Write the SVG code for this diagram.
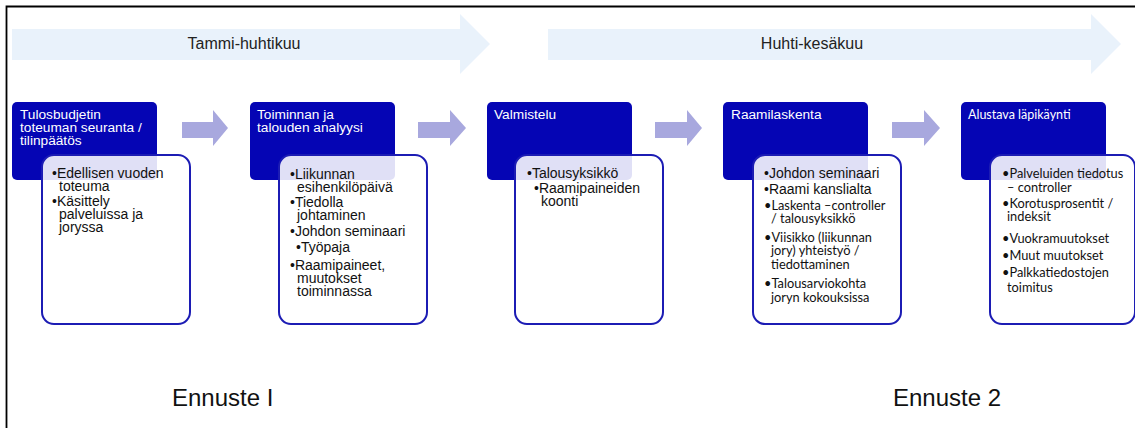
<svg xmlns="http://www.w3.org/2000/svg" width="1135" height="428" viewBox="0 0 1135 428">
<style>
.big{fill:#e9f2fb}
.bigt{font-family:"Liberation Sans",Arial,sans-serif;font-size:16px;fill:#222;text-anchor:middle}
.dark{fill:#0505b4}
.ht{font-family:"Liberation Sans",Arial,sans-serif;font-size:13.7px;fill:#fff}
.htc{font-family:Lato,"Liberation Sans",sans-serif;font-size:12.5px;fill:#fff}
.card{fill:#fff;fill-opacity:0.88;stroke:#1c1cb4;stroke-width:2}
.bt{font-family:"Liberation Sans",Arial,sans-serif;font-size:14px;fill:#111}
.btc{font-family:Lato,"Liberation Sans",sans-serif;font-size:12.8px;fill:#111}
.pa{fill:#a8a8de}
.en{font-family:"Liberation Sans",Arial,sans-serif;font-size:24px;fill:#111}
</style>
<rect width="1135" height="428" fill="#fff"/>
<path d="M6.5 428 V6.5 H1135" fill="none" stroke="#000" stroke-width="1.8"/>
<g id="period1">
<path class="big" d="M12 29 H460 V14 L490 44 L460 74 V60 H12 Z"/>
<text class="bigt" x="244" y="49">Tammi-huhtikuu</text>
</g>
<g id="period2">
<path class="big" d="M548 29 H1091 V14 L1121 44 L1091 74 V60 H548 Z"/>
<text class="bigt" x="812" y="49">Huhti-kesäkuu</text>
</g>
<g id="connectors">
<path class="pa" d="M182 122 H213 V110 L228 128 L213 146 V138 H182 Z"/>
<path class="pa" d="M418 122 H450 V110 L466 128 L450 146 V138 H418 Z"/>
<path class="pa" d="M655 122 H687 V110 L702 128 L687 146 V138 H655 Z"/>
<path class="pa" d="M892 122 H924 V110 L940 128 L924 146 V138 H892 Z"/>
</g>
<g id="step1">
<rect class="dark" x="12" y="102" width="145" height="78" rx="5"/>
<text class="ht" x="20" y="119">Tulosbudjetin</text>
<text class="ht" x="20" y="132">toteuman seuranta /</text>
<text class="ht" x="20" y="145">tilinpäätös</text>
<rect class="card" x="42" y="155" width="148" height="169" rx="12"/>
<text class="bt"><tspan x="52" y="178">•Edellisen vuoden</tspan><tspan x="59" y="191">toteuma</tspan><tspan x="52" y="206">•Käsittely</tspan><tspan x="59" y="219">palveluissa ja</tspan><tspan x="59" y="232">joryssa</tspan></text>
</g>
<g id="step2">
<rect class="dark" x="250" y="102" width="145" height="78" rx="5"/>
<text class="ht" x="257" y="119">Toiminnan ja</text>
<text class="ht" x="257" y="132">talouden analyysi</text>
<rect class="card" x="279" y="155" width="148" height="169" rx="12"/>
<text class="bt"><tspan x="290" y="179">•Liikunnan</tspan><tspan x="297" y="192">esihenkilöpäivä</tspan><tspan x="290" y="207">•Tiedolla</tspan><tspan x="297" y="220">johtaminen</tspan><tspan x="290" y="236">•Johdon seminaari</tspan><tspan x="296" y="252">•Työpaja</tspan><tspan x="290" y="270">•Raamipaineet,</tspan><tspan x="297" y="283">muutokset</tspan><tspan x="297" y="296">toiminnassa</tspan></text>
</g>
<g id="step3">
<rect class="dark" x="487" y="102" width="145" height="78" rx="5"/>
<text class="ht" x="494" y="119">Valmistelu</text>
<rect class="card" x="515" y="155" width="148" height="169" rx="12"/>
<text class="bt"><tspan x="527" y="178">•Talousyksikkö</tspan><tspan x="534" y="193">•Raamipaineiden</tspan><tspan x="541" y="206">koonti</tspan></text>
</g>
<g id="step4">
<rect class="dark" x="723" y="102" width="145" height="78" rx="5"/>
<text class="ht" x="731" y="119">Raamilaskenta</text>
<rect class="card" x="753" y="155" width="148" height="169" rx="12"/>
<text class="bt"><tspan x="764" y="178">•Johdon seminaari</tspan><tspan x="764" y="194">•Raami kanslialta</tspan></text>
<text class="btc"><tspan x="764" y="210">•Laskenta –controller</tspan><tspan x="771" y="223">/ talousyksikkö</tspan><tspan x="764" y="242">•Viisikko (liikunnan</tspan><tspan x="771" y="255">jory) yhteistyö /</tspan><tspan x="771" y="269">tiedottaminen</tspan><tspan x="764" y="288">•Talousarviokohta</tspan><tspan x="771" y="302">joryn kokouksissa</tspan></text>
</g>
<g id="step5">
<rect class="dark" x="961" y="102" width="145" height="78" rx="5"/>
<text class="htc" x="968" y="119">Alustava läpikäynti</text>
<rect class="card" x="990" y="155" width="145" height="169" rx="12"/>
<text class="btc"><tspan x="1002" y="178">•Palveluiden tiedotus</tspan><tspan x="1007" y="192">– controller</tspan><tspan x="1002" y="208">•Korotusprosentit /</tspan><tspan x="1007" y="221">indeksit</tspan><tspan x="1002" y="243">•Vuokramuutokset</tspan><tspan x="1002" y="260">•Muut muutokset</tspan><tspan x="1002" y="277">•Palkkatiedostojen</tspan><tspan x="1007" y="292">toimitus</tspan></text>
</g>
<g id="forecasts">
<text class="en" x="172" y="406">Ennuste I</text>
<text class="en" x="893" y="406">Ennuste 2</text>
</g>
</svg>
